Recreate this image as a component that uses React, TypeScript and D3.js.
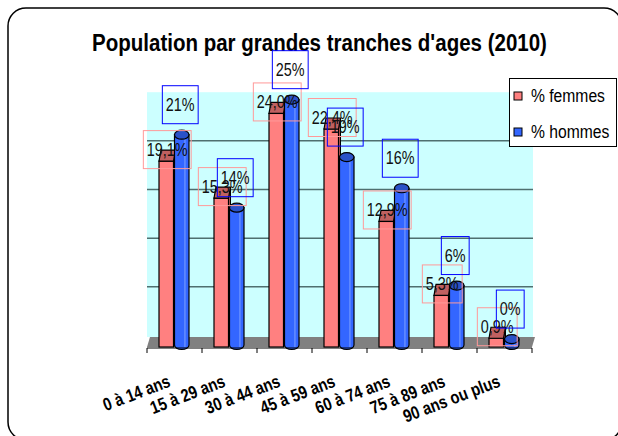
import * as d3 from "d3";

const categories = ["0 à 14 ans", "15 à 29 ans", "30 à 44 ans", "45 à 59 ans", "60 à 74 ans", "75 à 89 ans", "90 ans ou plus"];
const femmes = [19.1, 15.3, 24.0, 22.4, 12.9, 5.3, 0.9];
const hommes = [21.3, 13.8, 24.9, 19.0, 15.8, 5.8, 0.3];
const seriesNames = ["% femmes", "% hommes"];
const gridValues = [5, 10, 15, 20];
const title = "Population par grandes tranches d'ages (2010)";

const FONT = "'Liberation Sans', Arial, sans-serif";
const SQUEEZE = 0.8; // the original text looks horizontally compressed

const frLocale = d3.formatLocale({ decimal: ",", thousands: " ", grouping: [3], currency: ["", " €"] });
const fmtF = (v: number) => frLocale.format(".1f")(v) + "%";
const fmtH = (v: number) => d3.format(".0f")(v) + "%";

let ctx: CanvasRenderingContext2D | null = null;
function textWidth(s: string, size: number, weight = "normal") {
    if (!ctx) ctx = document.createElement("canvas").getContext("2d");
    if (!ctx) return s.length * size * 0.5;
    ctx.font = `${weight} ${size}px 'Liberation Sans', Arial, sans-serif`;
    return ctx.measureText(s).width;
}

const Label = ({ cx, cy, text, stroke }: { cx: number; cy: number; text: string; stroke: string }) => {
    const w = textWidth(text, 18) * SQUEEZE + 7;
    const h = 38;
    return (
        <g>
            <rect x={cx - w / 2} y={cy - h / 2} width={w} height={h} fill="none" stroke={stroke} strokeWidth={1} />
            <text transform={`translate(${cx},${cy + 6}) scale(${SQUEEZE},1)`} textAnchor="middle" fontSize={18} fontFamily={FONT} fill="#111">
                {text}
            </text>
        </g>
    );
};

export default function App() {
    const x = d3.scaleBand().domain(categories).range([147, 532]);
    const xs = d3.scaleBand().domain(seriesNames).range([12, 43]);
    const y = d3.scaleLinear().domain([0, 25]).range([342, 98.7]);
    const depth = 5; // half depth of the 3d effect
    const floorFront = y(0) + depth;
    const back = (v: number) => y(v) - 6.5;
    const bw = xs.bandwidth() - 1;
    const titleScale = 455 / textWidth(title, 24, "bold");

    return (
        <svg width={618} height={436} style={{ position: "absolute", left: 0, top: 0 }}>
            <rect x={8} y={8} width={614} height={432} rx={18} fill="#fff" stroke="#000" strokeWidth={1.5} />

            <text transform={`translate(319.5,51) scale(${titleScale},1)`} textAnchor="middle" fontSize={24}
                fontWeight="bold" fontFamily={FONT}>{title}</text>

            {/* back wall */}
            <rect x={147} y={back(25)} width={386} height={y(0) - depth - back(25)} fill="#CCFFFF" />
            {gridValues.map(v => (
                <line key={v} x1={147} x2={533} y1={back(v)} y2={back(v)} stroke="#4f6f6f" strokeWidth={1.5} />
            ))}
            {/* floor */}
            <polygon points={`147,${floorFront} 150,${y(0) - depth} 535,${y(0) - depth} 532,${floorFront}`} fill="#808080" />

            {categories.map((c, i) => {
                const x0 = (x(c) ?? 0) + (xs(seriesNames[0]) ?? 0);
                const yf = y(femmes[i]);
                const x1 = (x(c) ?? 0) + (xs(seriesNames[1]) ?? 0);
                const yh = y(hommes[i]);
                const rx = bw / 2;
                const ry = 4.5;
                const bottom = floorFront - 2;
                return (
                    <g key={c}>
                        <polygon points={`${x0 + bw},${yf + depth} ${x0 + bw + 2},${yf - depth - 1} ${x0 + bw + 2},${y(0) - depth} ${x0 + bw},${floorFront}`}
                            fill="#B85858" stroke="#000" strokeWidth={1} />
                        <rect x={x0} y={yf + depth} width={bw} height={floorFront - yf - depth} fill="#FF8080" stroke="#000" strokeWidth={1.2} />
                        <polygon points={`${x0},${yf + depth} ${x0 + 2},${yf - depth - 1} ${x0 + bw + 2},${yf - depth - 1} ${x0 + bw},${yf + depth}`}
                            fill="#C06060" stroke="#000" strokeWidth={1.2} />
                        <path d={`M${x1},${yh} L${x1},${bottom} A${rx},${ry} 0 0 0 ${x1 + bw},${bottom} L${x1 + bw},${yh} Z`}
                            fill="#3366FF" stroke="#000" strokeWidth={1.2} />
                        <line x1={x1 + bw * 0.72} x2={x1 + bw * 0.72} y1={yh + ry} y2={bottom + 2} stroke="#7EA0FF" strokeWidth={1} />
                        <ellipse cx={x1 + rx} cy={yh} rx={rx} ry={ry} fill="#2A52C8" stroke="#000" strokeWidth={1.2} />
                    </g>
                );
            })}

            {/* axis */}
            <line x1={147} x2={532} y1={348} y2={348} stroke="#000" />
            {[...categories.map(c => x(c) ?? 0), 532].map((t, i) => (
                <line key={i} x1={t} x2={t} y1={348} y2={353} stroke="#000" />
            ))}
            {categories.map(c => (
                <text key={c} transform={`translate(${(x(c) ?? 0) + x.bandwidth() / 2 - 3},386) rotate(-21) scale(0.82,1)`}
                    textAnchor="end" fontSize={18} fontWeight="bold" fontFamily={FONT}>{c}</text>
            ))}

            {/* data labels */}
            {categories.map((c, i) => {
                const xf = (x(c) ?? 0) + (xs(seriesNames[0]) ?? 0) + bw / 2 + 1;
                const xh = (x(c) ?? 0) + (xs(seriesNames[1]) ?? 0) + bw / 2 - 1.5;
                return (
                    <g key={c}>
                        <Label cx={xf} cy={y(femmes[i]) - 6.5} text={fmtF(femmes[i])} stroke="#FF9999" />
                        <Label cx={xh} cy={y(hommes[i]) - 30} text={fmtH(hommes[i])} stroke="#0000FF" />
                    </g>
                );
            })}

            {/* legend */}
            <rect x={509.5} y={78.5} width={107} height={68} fill="#fff" stroke="#000" />
            {seriesNames.map((s, i) => (
                <g key={s} transform={`translate(514,${92 + i * 36})`}>
                    <rect width={8} height={8} fill={i === 0 ? "#FF8080" : "#3366FF"} stroke="#000" />
                    <text transform={`translate(17,10) scale(0.87,1)`} fontSize={18} fontFamily={FONT}>{s}</text>
                </g>
            ))}
        </svg>
    );
}
